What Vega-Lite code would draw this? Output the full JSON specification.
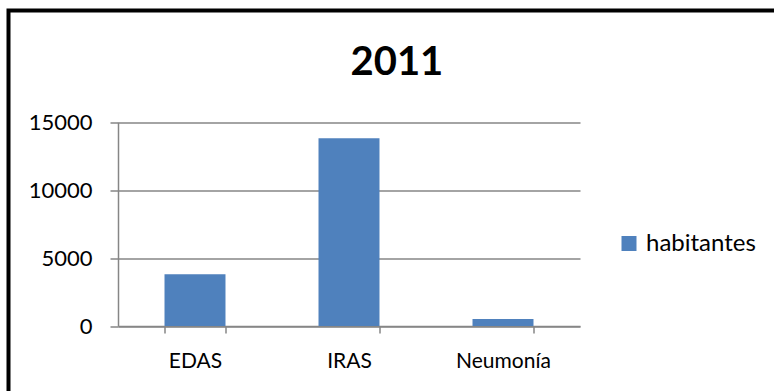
{
  "$schema": "https://vega.github.io/schema/vega-lite/v6.json",
  "usermeta": {"embedOptions": {"actions": false}},
  "width": 775.5,
  "height": 390.5,
  "autosize": {"type": "none"},
  "padding": {"left": 8.5, "top": 10.5, "right": -10, "bottom": -10},
  "background": "white",
  "title": {
    "text": "2011",
    "font": "Lato",
    "fontSize": 40,
    "fontWeight": "bold",
    "color": "black",
    "anchor": "start",
    "baseline": "alphabetic",
    "offset": 0,
    "dx": 342,
    "dy": 104.5
  },
  "data": {
    "values": [
      {"causa": "EDAS", "serie": "habitantes", "casos": 3800},
      {"causa": "IRAS", "serie": "habitantes", "casos": 13800},
      {"causa": "Neumonía", "serie": "habitantes", "casos": 520}
    ]
  },
  "mark": {"type": "bar"},
  "encoding": {
    "x": {
      "field": "causa",
      "type": "nominal",
      "sort": null,
      "scale": {"range": [109.5, 571.5], "paddingInner": 0.604, "paddingOuter": 0.302},
      "axis": {
        "orient": "bottom",
        "offset": -75,
        "tickBand": "extent",
        "grid": false,
        "title": null,
        "labelAngle": 0,
        "labelFont": "Lato",
        "labelFontSize": 21,
        "labelColor": "black",
        "labelPadding": 17,
        "domainColor": "#868686",
        "domainWidth": 1.5,
        "tickColor": "#868686",
        "tickWidth": 1.5,
        "tickSize": 7
      }
    },
    "y": {
      "field": "casos",
      "type": "quantitative",
      "scale": {"domain": [0, 15000], "range": [315.5, 111.5], "nice": false},
      "axis": {
        "values": [0, 5000, 10000, 15000],
        "format": "d",
        "offset": -109.5,
        "grid": true,
        "gridColor": "#868686",
        "gridWidth": 1.5,
        "title": null,
        "labelFont": "Lato",
        "labelFontSize": 22,
        "labelColor": "black",
        "labelPadding": 18,
        "domainColor": "#868686",
        "domainWidth": 1.5,
        "tickColor": "#868686",
        "tickWidth": 1.5,
        "tickSize": 8
      }
    },
    "color": {
      "field": "serie",
      "type": "nominal",
      "scale": {"range": ["#4F81BD"]},
      "legend": {
        "orient": "none",
        "legendX": 608.5,
        "legendY": 221,
        "title": null,
        "padding": 0,
        "symbolType": "square",
        "symbolSize": 225,
        "symbolStrokeWidth": 0,
        "labelFont": "Lato",
        "labelFontSize": 24,
        "labelColor": "black",
        "labelOffset": 5
      }
    }
  },
  "config": {
    "view": {
      "stroke": "black",
      "strokeWidth": 4
    }
  }
}
